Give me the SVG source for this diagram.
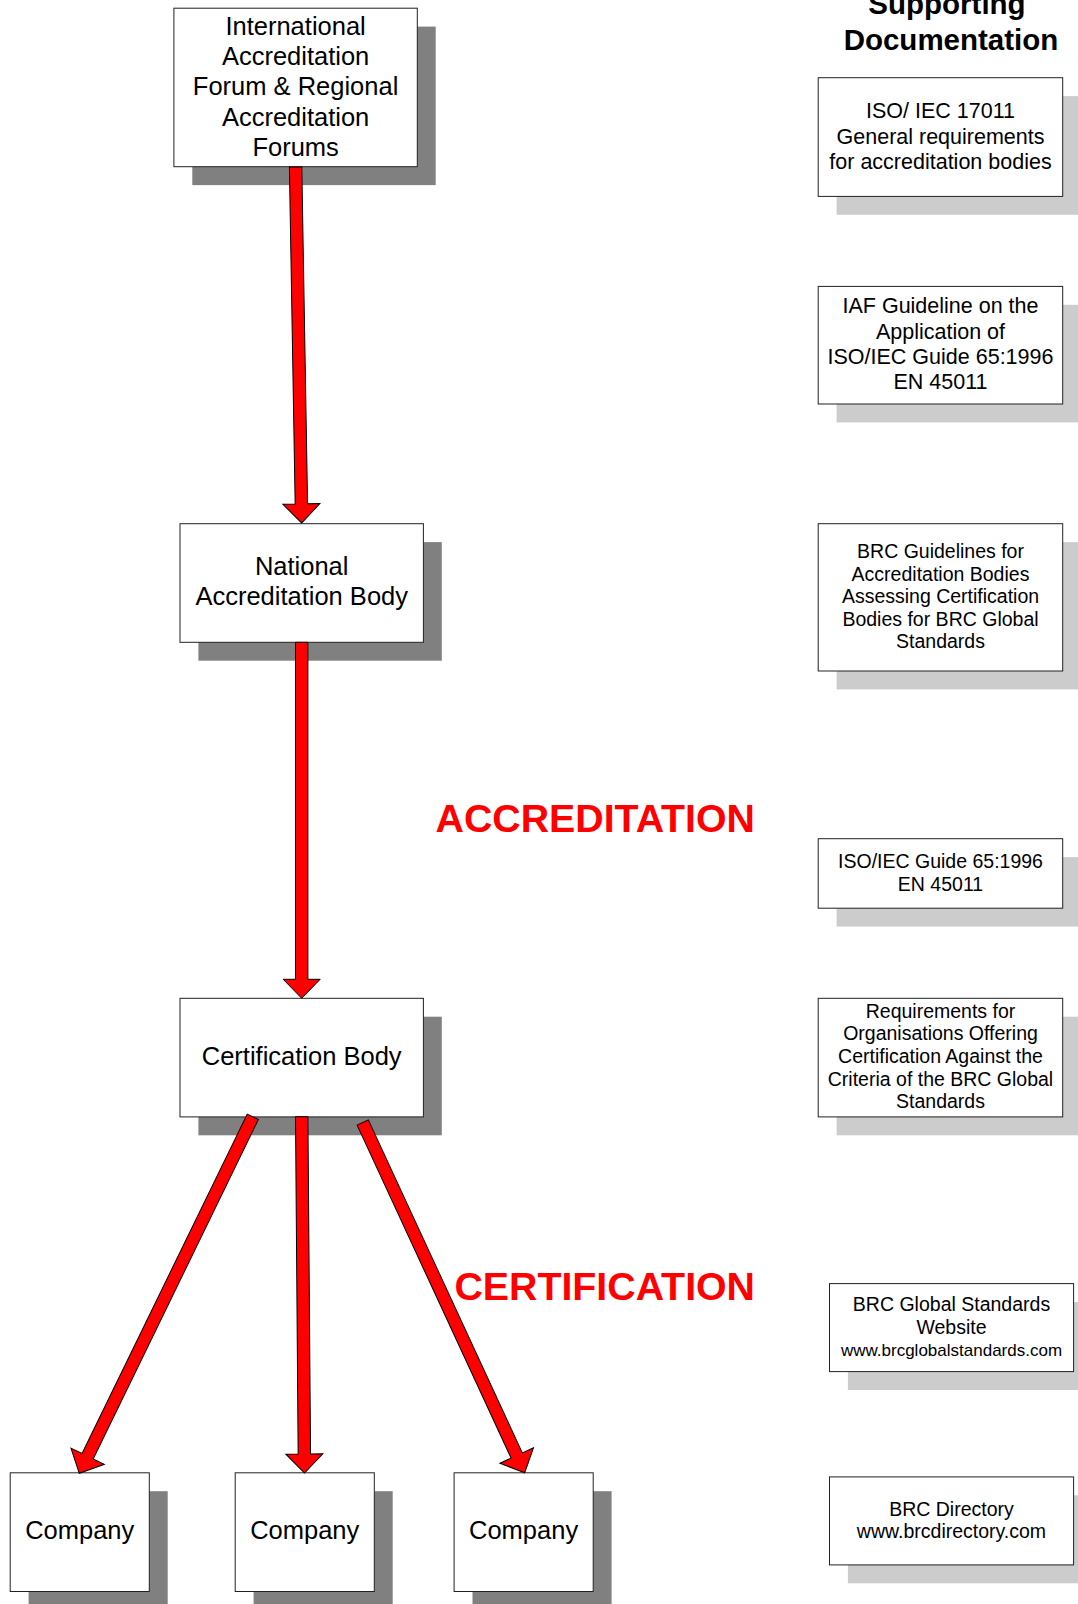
<svg xmlns="http://www.w3.org/2000/svg" width="1078" height="1604" viewBox="0 0 1078 1604">
<style>
.box{fill:#fff;stroke:#222;stroke-width:1}
.sd{fill:#808080}
.sl{fill:#cccccc}
.t{font-family:"Liberation Sans",Arial,sans-serif;fill:#000;text-anchor:middle}
.big{font-size:25.5px}
.mid{font-size:21.5px}
.sm{font-size:19.5px}
.xs{font-size:17px}
.title{font-family:"Liberation Sans",Arial,sans-serif;font-weight:bold;font-size:29.5px;text-anchor:middle;fill:#000}
.red{font-family:"Liberation Sans",Arial,sans-serif;font-weight:bold;font-size:39.3px;text-anchor:end;fill:#ff0000}
.arr{fill:#ff0000;stroke:#000;stroke-width:1;stroke-linejoin:miter}
</style>
<rect width="1078" height="1604" fill="#fff"/>

<g id="title">
<text class="title" x="947" y="14">Supporting</text>
<text class="title" x="951" y="50">Documentation</text>
</g>

<g id="iaf">
<rect class="sd" x="192.3" y="26.6" width="243.4" height="158.5"/>
<rect class="box" x="173.9" y="8.2" width="243.4" height="158.5"/>
<text class="t big" x="295.6" y="34.6">International</text>
<text class="t big" x="295.6" y="65">Accreditation</text>
<text class="t big" x="295.6" y="95.2">Forum &amp; Regional</text>
<text class="t big" x="295.6" y="125.6">Accreditation</text>
<text class="t big" x="295.6" y="155.5">Forums</text>
</g>

<g id="nab">
<rect class="sd" x="198.4" y="542.1" width="243.4" height="118.6"/>
<rect class="box" x="180" y="523.7" width="243.4" height="118.6"/>
<text class="t big" x="301.7" y="574.6">National</text>
<text class="t big" x="301.7" y="605.3">Accreditation Body</text>
</g>

<g id="cb">
<rect class="sd" x="198.4" y="1016.7" width="243.4" height="118.6"/>
<rect class="box" x="180" y="998.3" width="243.4" height="118.6"/>
<text class="t big" x="301.7" y="1064.5">Certification Body</text>
</g>

<g id="company1">
<rect class="sd" x="28.6" y="1491.2" width="139.1" height="118.7"/>
<rect class="box" x="10.2" y="1472.8" width="139.1" height="118.7"/>
<text class="t big" x="79.7" y="1539">Company</text>
</g>
<g id="company2">
<rect class="sd" x="253.6" y="1491.2" width="139.1" height="118.7"/>
<rect class="box" x="235.2" y="1472.8" width="139.1" height="118.7"/>
<text class="t big" x="304.7" y="1539">Company</text>
</g>
<g id="company3">
<rect class="sd" x="472.5" y="1491.2" width="139.1" height="118.7"/>
<rect class="box" x="454.1" y="1472.8" width="139.1" height="118.7"/>
<text class="t big" x="523.6" y="1539">Company</text>
</g>

<g id="doc1">
<rect class="sl" x="836.6" y="96.1" width="244.5" height="118.7"/>
<rect class="box" x="818.2" y="77.7" width="244.5" height="118.7"/>
<text class="t mid" x="940.5" y="118">ISO/ IEC 17011</text>
<text class="t mid" x="940.5" y="143.5">General requirements</text>
<text class="t mid" x="940.5" y="169">for accreditation bodies</text>
</g>

<g id="doc2">
<rect class="sl" x="836.6" y="304.8" width="244.5" height="117.6"/>
<rect class="box" x="818.2" y="286.4" width="244.5" height="117.6"/>
<text class="t mid" x="940.5" y="313.3">IAF Guideline on the</text>
<text class="t mid" x="940.5" y="338.8">Application of</text>
<text class="t mid" x="940.5" y="363.8">ISO/IEC Guide 65:1996</text>
<text class="t mid" x="940.5" y="389">EN 45011</text>
</g>

<g id="doc3">
<rect class="sl" x="836.6" y="542.1" width="244.5" height="147.3"/>
<rect class="box" x="818.2" y="523.7" width="244.5" height="147.3"/>
<text class="t sm" x="940.5" y="558.3">BRC Guidelines for</text>
<text class="t sm" x="940.5" y="580.8">Accreditation Bodies</text>
<text class="t sm" x="940.5" y="603.3">Assessing Certification</text>
<text class="t sm" x="940.5" y="625.8">Bodies for BRC Global</text>
<text class="t sm" x="940.5" y="648.3">Standards</text>
</g>

<g id="doc4">
<rect class="sl" x="836.6" y="857.1" width="244.5" height="69.5"/>
<rect class="box" x="818.2" y="838.7" width="244.5" height="69.5"/>
<text class="t sm" x="940.5" y="868.2">ISO/IEC Guide 65:1996</text>
<text class="t sm" x="940.5" y="890.7">EN 45011</text>
</g>

<g id="doc5">
<rect class="sl" x="836.6" y="1016.7" width="244.5" height="118.6"/>
<rect class="box" x="818.2" y="998.3" width="244.5" height="118.6"/>
<text class="t sm" x="940.5" y="1017.5">Requirements for</text>
<text class="t sm" x="940.5" y="1040">Organisations Offering</text>
<text class="t sm" x="940.5" y="1062.5">Certification Against the</text>
<text class="t sm" x="940.5" y="1085.5">Criteria of the BRC Global</text>
<text class="t sm" x="940.5" y="1108">Standards</text>
</g>

<g id="doc6">
<rect class="sl" x="847.9" y="1302" width="244.1" height="88"/>
<rect class="box" x="829.5" y="1283.6" width="244.1" height="88"/>
<text class="t sm" x="951.5" y="1311">BRC Global Standards</text>
<text class="t sm" x="951.5" y="1333.6">Website</text>
<text class="t xs" x="951.5" y="1356">www.brcglobalstandards.com</text>
</g>

<g id="doc7">
<rect class="sl" x="847.9" y="1495.3" width="244.1" height="88"/>
<rect class="box" x="829.5" y="1476.9" width="244.1" height="88"/>
<text class="t sm" x="951.5" y="1515.6">BRC Directory</text>
<text class="t sm" x="951.5" y="1538">www.brcdirectory.com</text>
</g>

<g id="labels">
<text class="red" x="755" y="832">ACCREDITATION</text>
<text class="red" x="755" y="1299.5">CERTIFICATION</text>
</g>

<g id="connectors">
<path class="arr" transform="translate(295.6,167) rotate(-0.98)" d="M-6.2,0 H6.2 V337 H18.5 L0,356 L-18.5,337 H-6.2 Z"/>
<path class="arr" transform="translate(301.7,642.3)" d="M-6.2,0 H6.2 V337 H18.5 L0,356 L-18.5,337 H-6.2 Z"/>
<path class="arr" transform="translate(252.8,1116.8) rotate(25.95)" d="M-6.2,0 H6.2 V377.5 H18.5 L0,396.5 L-18.5,377.5 H-6.2 Z"/>
<path class="arr" transform="translate(301.7,1116.7) rotate(-0.45)" d="M-6.2,0 H6.2 V337.3 H18.5 L0,356.3 L-18.5,337.3 H-6.2 Z"/>
<path class="arr" transform="translate(362.7,1122.5) rotate(-24.82)" d="M-6.2,0 H6.2 V366.9 H18.5 L0,385.9 L-18.5,366.9 H-6.2 Z"/>
</g>
</svg>
